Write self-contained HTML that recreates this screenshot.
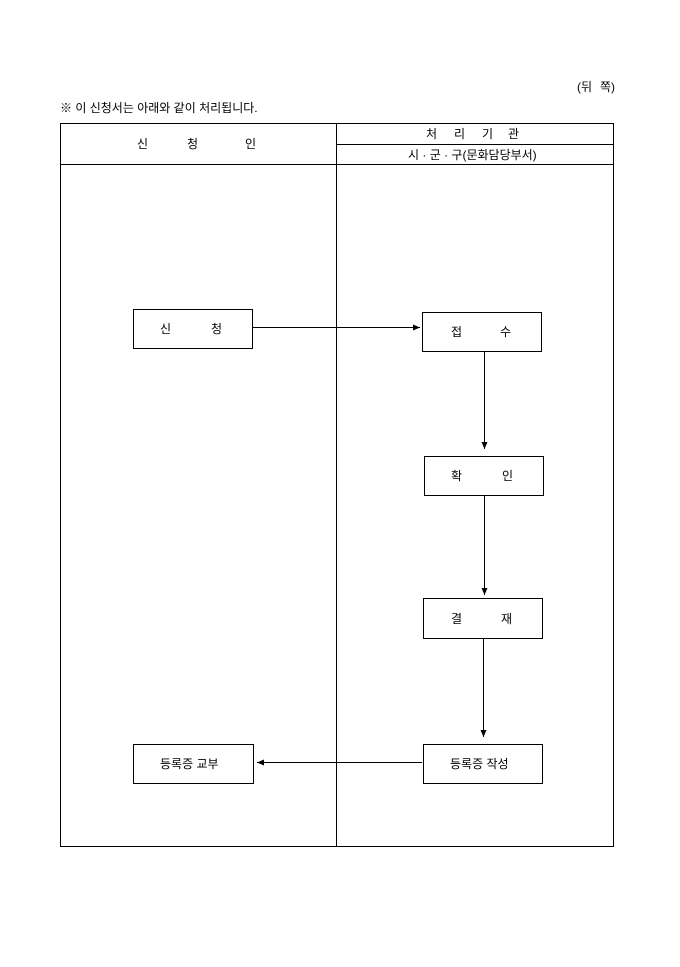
<!DOCTYPE html>
<html><head><meta charset="utf-8"><style>
html,body{margin:0;padding:0;background:#fff;}
svg text{font-family:"Liberation Sans","Noto Sans CJK KR","NanumGothic",sans-serif;font-size:12px;fill:#000;}
</style></head><body>
<svg width="680" height="962" viewBox="0 0 680 962" xmlns="http://www.w3.org/2000/svg">
<defs><marker id="a" markerWidth="8" markerHeight="8" refX="7" refY="4" orient="auto" markerUnits="userSpaceOnUse"><path d="M0,1 L7,4 L0,7 z" fill="#000"/></marker></defs>
<text x="577" y="91">(뒤</text><text x="600" y="91">쪽)</text>
<text x="60" y="112">※ 이 신청서는 아래와 같이 처리됩니다.</text>
<g fill="none" stroke="#000" stroke-width="1">
<rect x="60.5" y="123.5" width="553" height="723"/>
<line x1="60" y1="164.5" x2="613" y2="164.5"/>
<line x1="336.5" y1="123" x2="336.5" y2="846"/>
<line x1="336" y1="144.5" x2="613" y2="144.5"/>
<rect x="133.5" y="309.5" width="119" height="39"/>
<rect x="422.5" y="312.5" width="119" height="39"/>
<rect x="424.5" y="456.5" width="119" height="39"/>
<rect x="423.5" y="598.5" width="119" height="40"/>
<rect x="423.5" y="744.5" width="119" height="39"/>
<rect x="133.5" y="744.5" width="120" height="39"/>
<line x1="252" y1="327.5" x2="420" y2="327.5" marker-end="url(#a)"/>
<line x1="484.5" y1="351" x2="484.5" y2="449" marker-end="url(#a)"/>
<line x1="484.5" y1="495" x2="484.5" y2="595" marker-end="url(#a)"/>
<line x1="483.5" y1="638" x2="483.5" y2="737" marker-end="url(#a)"/>
<line x1="422" y1="762.5" x2="257" y2="762.5" marker-end="url(#a)"/>
</g>
<text x="137" y="148">신</text><text x="187" y="148">청</text><text x="245" y="148">인</text>
<text x="426" y="138">처</text><text x="454" y="138">리</text><text x="482" y="138">기</text><text x="508" y="138">관</text>
<text x="408" y="159">시 · 군 · 구(문화담당부서)</text>
<text x="160" y="333">신</text><text x="211" y="333">청</text>
<text x="451" y="336">접</text><text x="500" y="336">수</text>
<text x="451" y="480">확</text><text x="502" y="480">인</text>
<text x="451" y="623">결</text><text x="501" y="623">재</text>
<text x="450" y="768">등록증 작성</text>
<text x="160" y="768">등록증 교부</text>
</svg>
</body></html>
